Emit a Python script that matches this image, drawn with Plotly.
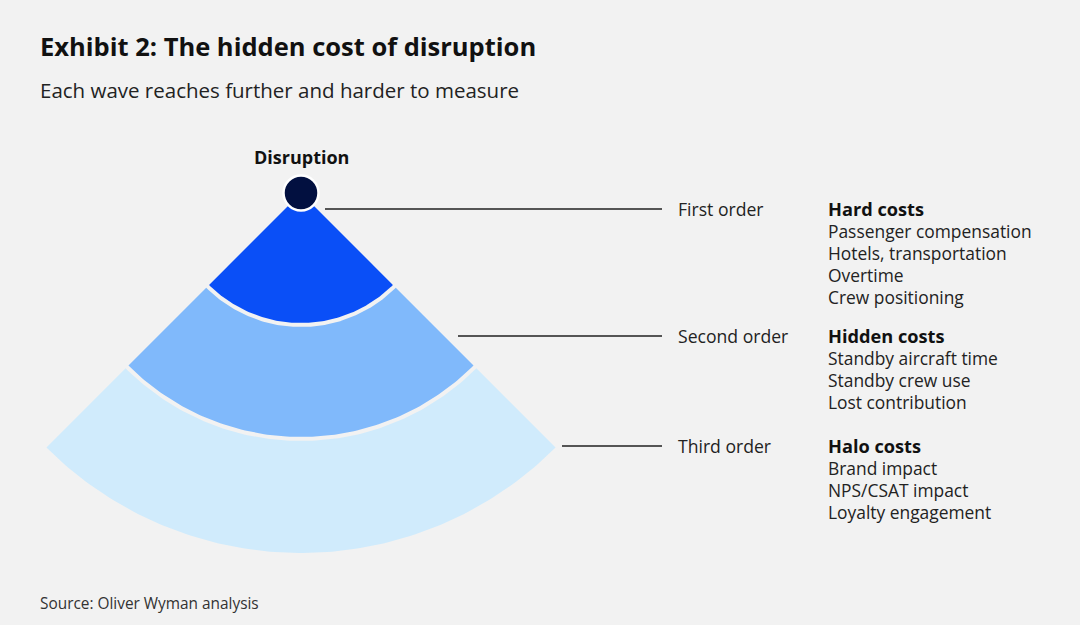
import numpy as np
import plotly.graph_objects as go

# ---- data ----
orders = ["First order", "Second order", "Third order"]
cost_groups = ["Hard costs", "Hidden costs", "Halo costs"]
cost_items = [
    ["Passenger compensation", "Hotels, transportation", "Overtime", "Crew positioning"],
    ["Standby aircraft time", "Standby crew use", "Lost contribution"],
    ["Brand impact", "NPS/CSAT impact", "Loyalty engagement"],
]
ring_outer = [132, 246, 360]      # reach of each wave (radius from the disruption)
ring_colors = ["#0a4ff7", "#80b9fb", "#d0ebfc"]
leader_y = [209, 336, 446]        # vertical position of each label row
half_angle = 45                   # spread of the waves (degrees)

# ---- layout constants ----
W, H = 1080, 625
BG = "#f2f2f2"
APEX = (301, 193)
GAP = 4
FONT = "Open Sans"
LABEL_X = 676
GROUP_X = 826
LINE_END = 662
LEADER_START = [325, 458, 562]
LINE_H = 22
PAD = 2  # annotation text padding compensation

fig = go.Figure()

def sector(r0, r1):
    a = np.radians(np.linspace(-half_angle, half_angle, 120))
    xo = APEX[0] + r1 * np.sin(a)
    yo = APEX[1] + r1 * np.cos(a)
    if r0 <= 0:
        xs = np.concatenate([[APEX[0]], xo, [APEX[0]]])
        ys = np.concatenate([[APEX[1]], yo, [APEX[1]]])
    else:
        xi = APEX[0] + r0 * np.sin(a[::-1])
        yi = APEX[1] + r0 * np.cos(a[::-1])
        xs = np.concatenate([xo, xi, [xo[0]]])
        ys = np.concatenate([yo, yi, [yo[0]]])
    return xs, ys

# draw from outer to inner
for i in reversed(range(len(ring_outer))):
    r1 = ring_outer[i]
    r0 = 0 if i == 0 else ring_outer[i - 1] + GAP / 2
    r1e = r1 - (GAP / 2 if i < len(ring_outer) - 1 else 0)
    xs, ys = sector(r0, r1e)
    fig.add_trace(go.Scatter(x=xs, y=ys, mode="lines", fill="toself",
                             fillcolor=ring_colors[i], line=dict(width=0),
                             hoverinfo="skip", showlegend=False))

# disruption dot
fig.add_trace(go.Scatter(x=[APEX[0]], y=[APEX[1]], mode="markers",
                         marker=dict(size=35, color="#021040",
                                     line=dict(color="#ffffff", width=2.5)),
                         hoverinfo="skip", showlegend=False))

annotations = []
shapes = []
for i, y in enumerate(leader_y):
    shapes.append(dict(type="line", xref="x", yref="y", x0=LEADER_START[i], x1=LINE_END,
                       y0=y, y1=y, line=dict(color="#555555", width=2)))
    annotations.append(dict(x=LABEL_X, y=y, xref="x", yref="y", text=orders[i],
                            showarrow=False, xanchor="left", yanchor="middle",
                            font=dict(family=FONT, size=17.6, color="#222222")))
    annotations.append(dict(x=GROUP_X, y=y, xref="x", yref="y",
                            text="<b>" + cost_groups[i] + "</b>",
                            showarrow=False, xanchor="left", yanchor="middle",
                            font=dict(family=FONT, size=18.2, color="#111111")))
    for j, item in enumerate(cost_items[i]):
        annotations.append(dict(x=GROUP_X, y=y + LINE_H * (j + 1), xref="x", yref="y",
                                text=item, showarrow=False, xanchor="left",
                                yanchor="middle",
                                font=dict(family=FONT, size=17.4, color="#222222")))

annotations += [
    dict(x=APEX[0], y=157, xref="x", yref="y", text="<b>Disruption</b>",
         showarrow=False, xanchor="center", yanchor="middle",
         font=dict(family=FONT, size=18, color="#111111")),
    dict(x=40 - PAD, y=46, xref="x", yref="y",
         text="<b>Exhibit 2: The hidden cost of disruption</b>",
         showarrow=False, xanchor="left", yanchor="middle",
         font=dict(family=FONT, size=25.5, color="#111111")),
    dict(x=40 - PAD, y=90, xref="x", yref="y",
         text="Each wave reaches further and harder to measure",
         showarrow=False, xanchor="left", yanchor="middle",
         font=dict(family=FONT, size=20.5, color="#222222")),
    dict(x=40 - PAD, y=603, xref="x", yref="y", text="Source: Oliver Wyman analysis",
         showarrow=False, xanchor="left", yanchor="middle",
         font=dict(family=FONT, size=15.4, color="#333333")),
]

fig.update_layout(
    width=W, height=H,
    margin=dict(l=0, r=0, t=0, b=0),
    paper_bgcolor=BG, plot_bgcolor=BG,
    xaxis=dict(range=[0, W], visible=False, fixedrange=True),
    yaxis=dict(range=[H, 0], visible=False, fixedrange=True),
    annotations=annotations, shapes=shapes,
    showlegend=False,
)

fig.write_html("out.html", config={"displayModeBar": False},
               post_script="document.body.style.margin='0';document.body.style.background='#f2f2f2';")
